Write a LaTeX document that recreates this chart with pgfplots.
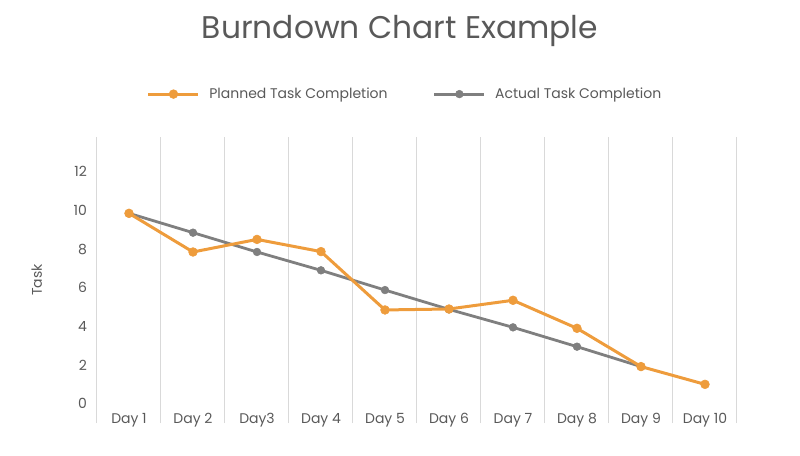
\documentclass[border=0pt]{standalone}
\usepackage{pgfplots}
\pgfplotsset{compat=1.18}
\usepackage{fontspec}
\setmainfont{Poppins}
\definecolor{planned}{HTML}{EE9C3C}
\definecolor{actual}{HTML}{7F7F7F}
\definecolor{gridc}{HTML}{D9D9D9}
\definecolor{txt}{HTML}{595959}
\begin{document}
\begin{tikzpicture}[x=1pt,y=1pt]
\useasboundingbox (-72.75pt,-24pt) rectangle (527.25pt,317.25pt);
\begin{axis}[
  at={(0,0)}, anchor=south west,
  scale only axis,
  width=480pt, height=214.5pt,
  xmin=-0.5, xmax=9.5, ymin=-1, ymax=13.8,
  axis line style={draw=none},
  xtick={0,...,9},
  xticklabels={Day 1,Day 2,Day3,Day 4,Day 5,Day 6,Day 7,Day 8,Day 9,Day 10},
  minor xtick={-0.5,0.5,...,9.5},
  xminorgrids, minor grid style={gridc, line width=0.75pt},
  ytick={0,2,...,12},
  major tick length=0pt, minor tick length=0pt,
  tick label style={font=\fontsize{10.5}{12}\selectfont, text=txt},
  /pgf/number format/assume math mode=true,
  xticklabel style={anchor=center, yshift=2.25pt},
  yticklabel style={xshift=-4pt},
  ylabel={Task},
  ylabel style={at={(axis description cs:-0.094,0.5)}, anchor=center, font=\fontsize{10.5}{12}\selectfont, text=txt},
  legend columns=2,
  legend style={at={(axis description cs:0.482,1.15)}, anchor=center, draw=none, fill=none,
    font=\fontsize{10.5}{12}\selectfont, text=txt,
    /tikz/every odd column/.append style={column sep=5pt},
    /tikz/every even column/.append style={column sep=32pt}},
  legend cell align=left,
  legend image code/.code={
    \draw[#1, mark repeat=2, mark phase=2] plot coordinates {(0pt,0pt) (18.75pt,0pt) (37.5pt,0pt)};
  },
  clip=false,
]
\addlegendimage{planned, line width=2.25pt, mark=*, mark size=3.3pt, mark options={solid, line width=0.4pt}}
\addlegendentry{Planned Task Completion}
\addlegendimage{actual, line width=2.1pt, mark=*, mark size=2.9pt, mark options={solid, line width=0.4pt}}
\addlegendentry{Actual Task Completion}
\addplot[forget plot, actual, line width=2.1pt, mark=*, mark size=2.9pt, mark options={solid, line width=0.4pt}] coordinates {
  (0,9.85) (1,8.85) (2,7.85) (3,6.9) (4,5.88) (5,4.88) (6,3.95) (7,2.95) (8,1.92)
};
\addplot[forget plot, planned, line width=2.25pt, mark=*, mark size=3.3pt, mark options={solid, line width=0.4pt}] coordinates {
  (0,9.85) (1,7.85) (2,8.5) (3,7.87) (4,4.85) (5,4.9) (6,5.35) (7,3.9) (8,1.92) (9,1.0)
};
\end{axis}
\node[text=txt, font=\fontsize{23.5}{28}\selectfont] at (227.25pt,294pt) {Burndown Chart Example};
\end{tikzpicture}
\end{document}
